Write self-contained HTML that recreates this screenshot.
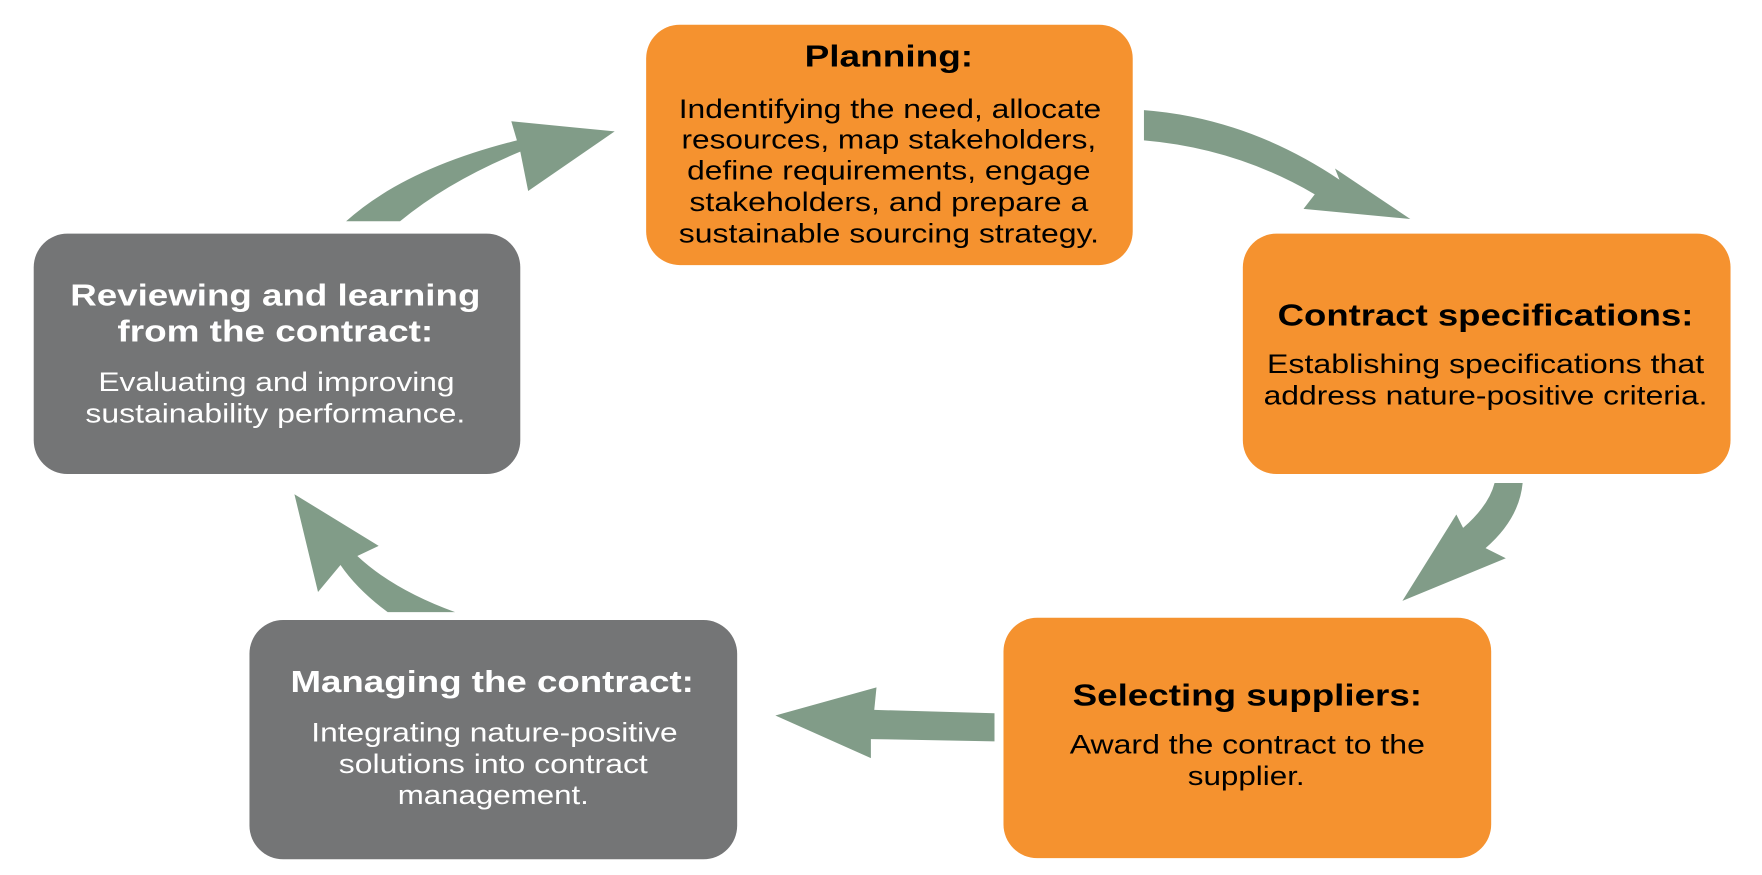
<!DOCTYPE html>
<html><head><meta charset="utf-8"><style>
html,body{margin:0;padding:0;background:#fff;width:1762px;height:875px;overflow:hidden}
svg{display:block}
text{font-family:"Liberation Sans",Arial,sans-serif;text-anchor:middle}
.t{font-weight:bold;font-size:27px}
.b{font-size:23.5px}
</style></head><body>
<svg width="1762" height="875" viewBox="0 0 1568 779" preserveAspectRatio="none">
<g fill="#819c88">
<path d="M1018,98 Q1110,105 1192,160 L1188,150 L1255,195 L1160,186 L1170,173 Q1100,132 1018,125 Z"/>
<path d="M1330,430 L1355,430 Q1352,462 1322,488 L1340,497 L1248,535 L1296,458 L1302,470 Q1325,450 1330,430 Z"/>
<path d="M885,635 L885,660 L775,658 L775,675 L690,637 L780,612 L778,632 Z"/>
<path d="M405,545 L345,545 Q318,525 303,503 L283,527 L262,440 L337,486 L318,495 Q350,525 405,545 Z"/>
<path d="M308,197 L356,197 Q398,162 463,135 L470,170 L547,117 L455,108 L460,125 Q360,150 308,197 Z"/>
</g>
<rect x="575" y="22" width="433" height="214" rx="30" fill="#f5922f"/>
<rect x="1106" y="208" width="434" height="214" rx="30" fill="#f5922f"/>
<rect x="893" y="550" width="434" height="214" rx="30" fill="#f5922f"/>
<rect x="222" y="552" width="434" height="213" rx="30" fill="#747576"/>
<rect x="30" y="208" width="433" height="214" rx="30" fill="#747576"/>

<g fill="#000">
<text class="t" x="791" y="59" textLength="150" lengthAdjust="spacingAndGlyphs">Planning:</text>
<text class="b" x="792" y="105" textLength="376" lengthAdjust="spacingAndGlyphs">Indentifying the need, allocate</text>
<text class="b" x="791" y="132" textLength="369" lengthAdjust="spacingAndGlyphs">resources, map stakeholders,</text>
<text class="b" x="791" y="160" textLength="359" lengthAdjust="spacingAndGlyphs">define requirements, engage</text>
<text class="b" x="791" y="188" textLength="355" lengthAdjust="spacingAndGlyphs">stakeholders, and prepare a</text>
<text class="b" x="791" y="216" textLength="374" lengthAdjust="spacingAndGlyphs">sustainable sourcing strategy.</text>

<text class="t" x="1322" y="290" textLength="370" lengthAdjust="spacingAndGlyphs">Contract specifications:</text>
<text class="b" x="1322" y="332" textLength="389" lengthAdjust="spacingAndGlyphs">Establishing specifications that</text>
<text class="b" x="1322" y="360" textLength="395" lengthAdjust="spacingAndGlyphs">address nature-positive criteria.</text>

<text class="t" x="1110" y="628" textLength="311" lengthAdjust="spacingAndGlyphs">Selecting suppliers:</text>
<text class="b" x="1110" y="671" textLength="316" lengthAdjust="spacingAndGlyphs">Award the contract to the</text>
<text class="b" x="1109" y="699" textLength="104" lengthAdjust="spacingAndGlyphs">supplier.</text>
</g>
<g fill="#fff">
<text class="t" x="245" y="272" textLength="365" lengthAdjust="spacingAndGlyphs">Reviewing and learning</text>
<text class="t" x="245" y="304" textLength="281" lengthAdjust="spacingAndGlyphs">from the contract:</text>
<text class="b" x="246" y="348" textLength="317" lengthAdjust="spacingAndGlyphs">Evaluating and improving</text>
<text class="b" x="245" y="376" textLength="338" lengthAdjust="spacingAndGlyphs">sustainability performance.</text>

<text class="t" x="438" y="616" textLength="359" lengthAdjust="spacingAndGlyphs">Managing the contract:</text>
<text class="b" x="440" y="660" textLength="326" lengthAdjust="spacingAndGlyphs">Integrating nature-positive</text>
<text class="b" x="439" y="688" textLength="275" lengthAdjust="spacingAndGlyphs">solutions into contract</text>
<text class="b" x="439" y="716" textLength="170" lengthAdjust="spacingAndGlyphs">management.</text>
</g>
</svg>
</body></html>
